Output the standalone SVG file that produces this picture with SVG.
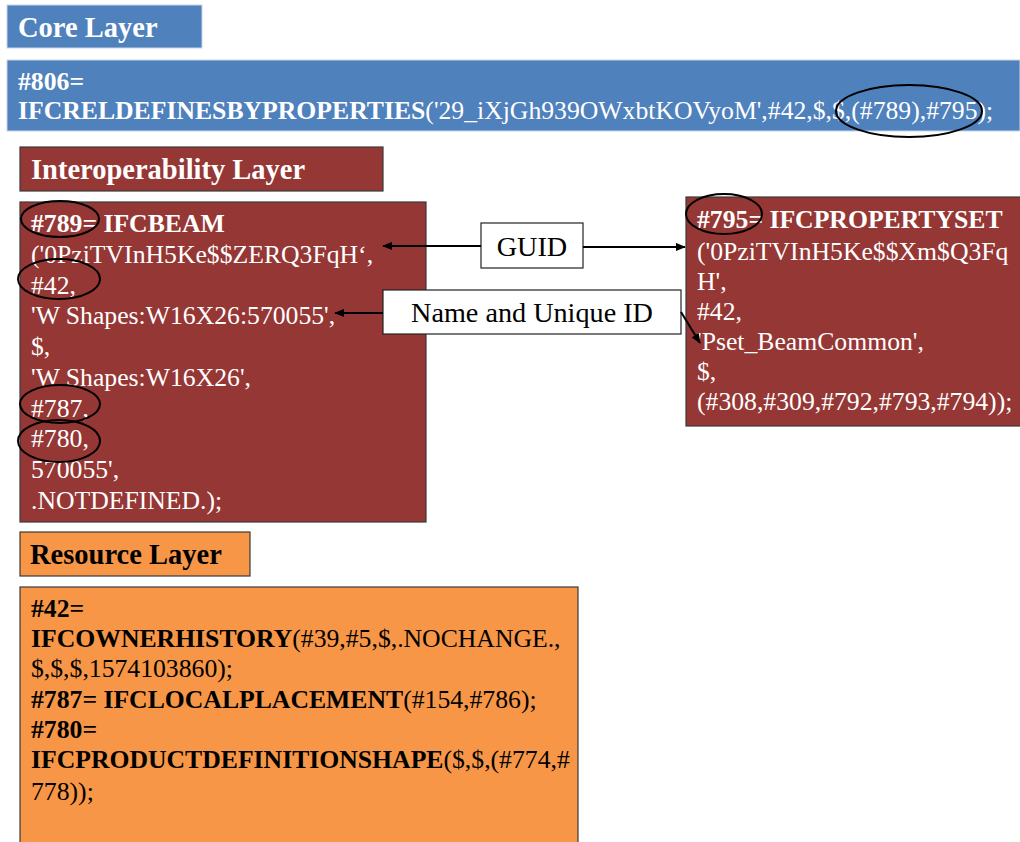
<svg xmlns="http://www.w3.org/2000/svg" width="1020" height="842" viewBox="0 0 1020 842">
<defs>
<style>
text{font-family:"Liberation Serif","Times New Roman",serif;font-size:25.7px}
.t{font-size:28.5px;font-weight:bold}
.l{font-size:28.2px}
.w{fill:#ffffff}
.k{fill:#000000}
.b{font-weight:bold}
.blue{fill:#4f81bd;stroke:#c7d5e8;stroke-width:1}
.red{fill:#953735;stroke:#3a3a3a;stroke-width:1.2}
.org{fill:#f79646;stroke:#3a3a3a;stroke-width:1.2}
.lbl{fill:#ffffff;stroke:#222;stroke-width:1.2}
.ell{fill:none;stroke:#000;stroke-width:2}
.con{stroke:#000;stroke-width:2;fill:none}
</style>
<marker id="ah" viewBox="0 0 12 10" refX="11" refY="5" markerWidth="5" markerHeight="4.5" orient="auto-start-reverse">
<path d="M0,0 L12,5 L0,10 z" fill="#000"/>
</marker>
</defs>

<g id="core-title">
<rect class="blue" x="7" y="5" width="195" height="43"/>
<text class="w t" x="18" y="37">Core Layer</text>
</g>

<g id="core-806">
<rect class="blue" x="7" y="60" width="1013" height="71"/>
<text class="w" x="18" y="90"><tspan class="b">#806=</tspan></text>
<text class="w" x="18" y="119"><tspan class="b">IFCRELDEFINESBYPROPERTIES</tspan>('29_iXjGh939OWxbtKOVyoM',#42,$,$,(#789),#795);</text>
<ellipse class="ell" cx="909" cy="111" rx="73" ry="26"/>
</g>

<g id="interop-title">
<rect class="red" x="20" y="147" width="363" height="44"/>
<text class="w t" x="31" y="179">Interoperability Layer</text>
</g>

<g id="ifcbeam">
<rect class="red" x="20" y="202" width="406" height="320"/>
<text class="w" x="31" y="232"><tspan class="b">#789= IFCBEAM</tspan></text>
<text class="w" x="31" y="263">('0PziTVInH5Ke$$ZERQ3FqH‘,</text>
<text class="w" x="31" y="294">#42,</text>
<text class="w" x="31" y="324">'W Shapes:W16X26:570055',</text>
<text class="w" x="31" y="355">$,</text>
<text class="w" x="31" y="386">'W Shapes:W16X26',</text>
<text class="w" x="31" y="417">#787,</text>
<text class="w" x="31" y="447">#780,</text>
<text class="w" x="31" y="478">570055',</text>
<text class="w" x="31" y="509">.NOTDEFINED.);</text>
<ellipse class="ell" cx="60" cy="219" rx="39" ry="18"/>
<ellipse class="ell" cx="59" cy="279" rx="41" ry="20"/>
<ellipse class="ell" cx="60" cy="404" rx="40" ry="19"/>
<ellipse class="ell" cx="59" cy="441" rx="41" ry="21"/>
</g>

<g id="propertyset">
<rect class="red" x="686" y="197" width="340" height="229"/>
<text class="w" x="697" y="228"><tspan class="b">#795= IFCPROPERTYSET</tspan></text>
<text class="w" x="697" y="260">('0PziTVInH5Ke$$Xm$Q3Fq</text>
<text class="w" x="697" y="290">H',</text>
<text class="w" x="697" y="320">#42,</text>
<text class="w" x="697" y="350">'Pset_BeamCommon',</text>
<text class="w" x="697" y="380">$,</text>
<text class="w" x="697" y="410">(#308,#309,#792,#793,#794));</text>
<ellipse class="ell" cx="724" cy="214" rx="38" ry="20"/>
</g>

<g id="guid">
<rect class="lbl" x="481" y="223" width="102" height="45"/>
<text class="k l" x="532" y="256" text-anchor="middle">GUID</text>
</g>

<g id="name-uid">
<rect class="lbl" x="383" y="290" width="298" height="44"/>
<text class="k l" x="532" y="322" text-anchor="middle">Name and Unique ID</text>
</g>

<g id="resource-title">
<rect class="org" x="20" y="532" width="230" height="44"/>
<text class="k t" x="30" y="564">Resource Layer</text>
</g>

<g id="resource">
<rect class="org" x="20" y="587" width="558" height="270"/>
<text class="k" x="31" y="617"><tspan class="b">#42=</tspan></text>
<text class="k" x="31" y="647"><tspan class="b">IFCOWNERHISTORY</tspan>(#39,#5,$,.NOCHANGE.,</text>
<text class="k" x="31" y="677">$,$,$,1574103860);</text>
<text class="k" x="31" y="708"><tspan class="b">#787= IFCLOCALPLACEMENT</tspan>(#154,#786);</text>
<text class="k" x="31" y="738"><tspan class="b">#780=</tspan></text>
<text class="k" x="31" y="768"><tspan class="b">IFCPRODUCTDEFINITIONSHAPE</tspan>($,$,(#774,#</text>
<text class="k" x="31" y="800">778));</text>
</g>

<g id="connectors">
<line class="con" x1="481" y1="246" x2="383" y2="246" marker-end="url(#ah)"/>
<line class="con" x1="583" y1="247" x2="685" y2="247" marker-end="url(#ah)"/>
<line class="con" x1="383" y1="313" x2="335" y2="313" marker-end="url(#ah)"/>
<line class="con" x1="681" y1="312" x2="700" y2="343" marker-end="url(#ah)"/>
</g>
</svg>
